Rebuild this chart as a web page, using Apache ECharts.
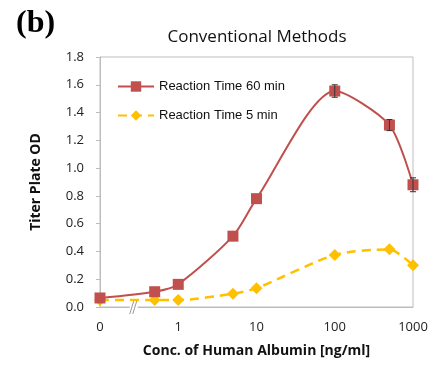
<!DOCTYPE html>
<html>
<head>
<meta charset="utf-8">
<script src="https://cdn.jsdelivr.net/npm/echarts@6/dist/echarts.min.js"></script>
<style>
  html, body { margin: 0; padding: 0; background: #fff; }
  #chart { width: 443px; height: 365px; }
</style>
</head>
<body>
<div id="chart"></div>
<script>
// concentration (ng/ml); 0 is drawn one decade below 1
const concentrations = [0.1, 0.5, 1, 5, 10, 100, 500, 1000];
const od60 = [0.065, 0.11, 0.163, 0.51, 0.78, 1.555, 1.31, 0.88];
const err60 = [0, 0, 0, 0, 0, 0.045, 0.04, 0.05];
const od5 = [0.05, 0.05, 0.05, 0.096, 0.135, 0.375, 0.415, 0.30];
const yTicks = ['0.0', '0.2', '0.4', '0.6', '0.8', '1.0', '1.2', '1.4', '1.6', '1.8'];
const breakAt = 0.27;

const tickFont = 'Open Sans';
const chart = echarts.init(document.getElementById('chart'));

const errData = concentrations
  .map((c, i) => [c, od60[i] - err60[i], od60[i] + err60[i]])
  .filter(d => d[2] > d[1]);

const option = {
  animation: false,
  title: {
    text: 'Conventional Methods',
    left: 252,
    top: 24,
    textAlign: 'center',
    textStyle: { fontFamily: tickFont, fontWeight: 'normal', fontSize: 17, color: '#111' }
  },
  legend: {
    orient: 'vertical',
    left: 112,
    top: 75,
    itemGap: 16,
    itemWidth: 36,
    itemHeight: 13,
    textStyle: { fontFamily: 'Liberation Sans', fontSize: 13, color: '#111' },
    data: ['Reaction Time 60 min', 'Reaction Time 5 min']
  },
  grid: {
    left: 100, right: 30, top: 57, bottom: 58,
    show: true, borderColor: '#bdbdbd', borderWidth: 1
  },
  xAxis: {
    type: 'log',
    logBase: 10,
    min: 0.1,
    max: 1000,
    name: 'Conc. of Human Albumin [ng/ml]',
    nameLocation: 'middle',
    nameGap: 37,
    nameTextStyle: { fontFamily: tickFont, fontWeight: 'bold', fontSize: 14, color: '#111' },
    axisLine: { show: true, lineStyle: { color: '#bdbdbd' } },
    axisTick: { show: false },
    minorTick: { show: false },
    splitLine: { show: false },
    axisLabel: {
      margin: 14,
      fontFamily: tickFont, fontSize: 13, color: '#222',
      formatter: v => (v < 0.5 ? '0' : String(Math.round(v)))
    }
  },
  yAxis: {
    type: 'value',
    min: 0,
    max: 1.8,
    interval: 0.2,
    name: 'Titer Plate OD',
    nameLocation: 'middle',
    nameGap: 57,
    nameTextStyle: { fontFamily: tickFont, fontWeight: 'bold', fontSize: 14, color: '#111' },
    axisLine: { show: true, lineStyle: { color: '#bdbdbd' } },
    axisTick: { show: true, inside: false, length: 4, lineStyle: { color: '#bdbdbd' } },
    splitLine: { show: false },
    axisLabel: {
      margin: 16,
      fontFamily: tickFont, fontSize: 13, color: '#222',
      formatter: v => yTicks[Math.round(v / 0.2)]
    }
  },
  series: [
    {
      name: 'Reaction Time 5 min',
      type: 'line',
      smooth: 0.25,
      data: concentrations.map((c, i) => [c, od5[i]]),
      symbol: 'diamond',
      symbolSize: 12,
      itemStyle: { color: '#FFC000' },
      lineStyle: { color: '#FFC000', width: 2.5, type: [9, 6] },
      z: 3
    },
    {
      name: 'Reaction Time 60 min',
      type: 'line',
      smooth: 0.25,
      data: concentrations.map((c, i) => [c, od60[i]]),
      symbol: 'rect',
      symbolSize: 11,
      itemStyle: { color: '#C0504D' },
      lineStyle: { color: '#C0504D', width: 2 },
      z: 4
    },
    {
      name: 'err',
      type: 'custom',
      data: errData,
      z: 5,
      renderItem: (params, api) => {
        const lo = api.coord([api.value(0), api.value(1)]);
        const hi = api.coord([api.value(0), api.value(2)]);
        const w = 3;
        const st = { stroke: '#333', lineWidth: 1 };
        return {
          type: 'group',
          children: [
            { type: 'line', shape: { x1: lo[0], y1: lo[1], x2: hi[0], y2: hi[1] }, style: st },
            { type: 'line', shape: { x1: lo[0] - w, y1: lo[1], x2: lo[0] + w, y2: lo[1] }, style: st },
            { type: 'line', shape: { x1: hi[0] - w, y1: hi[1], x2: hi[0] + w, y2: hi[1] }, style: st }
          ]
        };
      }
    }
  ]
};

chart.setOption(option);

// "(b)" panel label and axis break marker between 0 and 0.5
const bp = chart.convertToPixel({ gridIndex: 0 }, [breakAt, 0]);
chart.setOption({
  graphic: [
    { type: 'text', left: 16, top: 8, style: { text: '(b)', font: 'bold 32px "Liberation Serif"', fill: '#000' } },
    { type: 'rect', shape: { x: bp[0] - 4, y: bp[1] - 6, width: 8, height: 12 }, style: { fill: '#fff' }, z: 10 },
    { type: 'line', shape: { x1: bp[0] - 1, y1: bp[1] + 7, x2: bp[0] + 3, y2: bp[1] - 6 }, style: { stroke: '#999', lineWidth: 1 }, z: 11 },
    { type: 'line', shape: { x1: bp[0] - 4, y1: bp[1] + 7, x2: bp[0], y2: bp[1] - 6 }, style: { stroke: '#999', lineWidth: 1 }, z: 11 }
  ]
});
</script>
</body>
</html>
